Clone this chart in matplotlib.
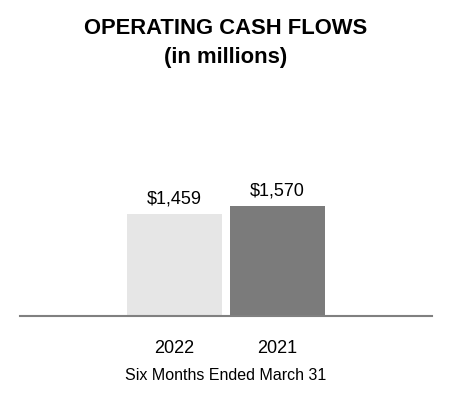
import matplotlib
matplotlib.use("Agg")
import matplotlib.pyplot as plt

plt.rcParams['font.family'] = ['Liberation Sans', 'DejaVu Sans']

# data
years = ['2022', '2021']
cash_flows = [1459, 1570]
bar_colors = ['#e6e6e6', '#7b7b7b']

fig = plt.figure(figsize=(4.52, 4.00), dpi=100)
ax = fig.add_axes([20 / 452, 84 / 400, 412 / 452, 210 / 400])

xpos = range(len(years))
bars = ax.bar(xpos, cash_flows, width=0.92, color=bar_colors)
for b, v in zip(bars, cash_flows):
    ax.text(b.get_x() + b.get_width() / 2, v + 90, '${:,}'.format(v),
            ha='center', va='bottom', fontsize=13)

ax.set_xlim(-1.5, 2.5)
ax.set_ylim(0, 3000)
ax.set_xticks(list(xpos))
ax.set_xticklabels(years, fontsize=13)
ax.tick_params(axis='x', length=0, pad=17)
ax.set_yticks([])
for s in ['top', 'right', 'left']:
    ax.spines[s].set_visible(False)
ax.spines['bottom'].set_color('#808080')
ax.spines['bottom'].set_linewidth(1.5)

fig.text(0.5, 1 - 29 / 400, 'OPERATING CASH FLOWS', ha='center', va='center',
         fontsize=15.8, fontweight='bold')
fig.text(0.5, 1 - 57 / 400, '(in millions)', ha='center', va='center',
         fontsize=15.8, fontweight='bold')
fig.text(0.5, 1 - 375 / 400, 'Six Months Ended March 31', ha='center', va='center',
         fontsize=11.5)

fig.savefig('out.png', dpi=100)
